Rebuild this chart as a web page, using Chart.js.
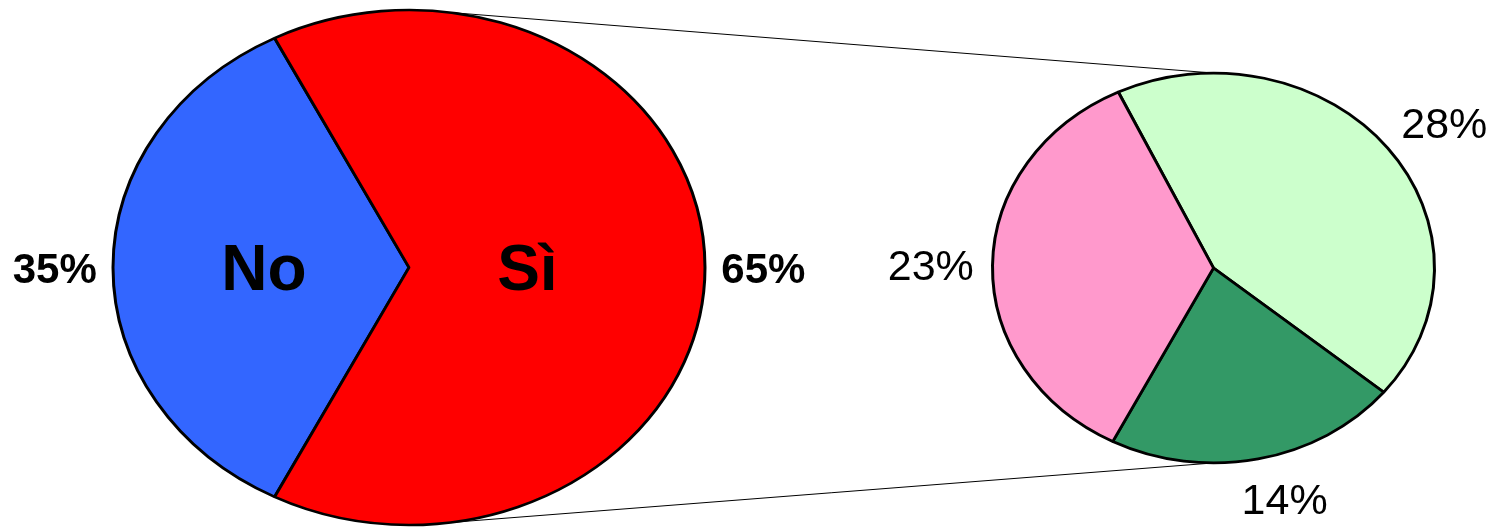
<!DOCTYPE html>
<html>
<head>
<meta charset="utf-8">
<script src="https://cdn.jsdelivr.net/npm/chart.js@4.4.0/dist/chart.umd.min.js"></script>
<style>
  body { margin: 0; background: #fff; }
  .strana { position: relative; width: 1495px; height: 528px; }
  .sloj { position: absolute; left: 0; top: 0; width: 1495px; height: 528px; }
</style>
</head>
<body>
<div class="strana">
  <div class="sloj"><canvas id="velikaPita"></canvas></div>
  <div class="sloj"><canvas id="malaPita"></canvas></div>
</div>
<script>
// glavna pita
const glavneKategorije = ["No", "Sì"];
const glavneVrednosti = [35, 65];
const glavneBoje = ["#3366FF", "#FF0000"];

// sporedna pita (deo "Sì")
const sporedneVrednosti = [28, 14, 23];
const sporedneBoje = ["#CCFFCC", "#339966", "#FF99CC"];

const FONT = '"Liberation Sans", Arial, sans-serif';

// crta pitu kao elipsu i ispisuje procente
const elipsaPlugin = {
  id: "elipsa",
  beforeDatasetsDraw(chart, args, opts) {
    const luk = chart.getDatasetMeta(0).data[0];
    const ctx = chart.ctx;
    ctx.save();
    ctx.translate(luk.x, luk.y);
    ctx.scale(1, opts.spljosti);
    ctx.translate(-luk.x, -luk.y);
  },
  afterDatasetsDraw(chart) {
    chart.ctx.restore();
  },
  afterDraw(chart, args, opts) {
    const ctx = chart.ctx;
    const k = opts.spljosti;
    const lukovi = chart.getDatasetMeta(0).data;
    const vrednosti = chart.data.datasets[0].data;
    ctx.save();
    ctx.fillStyle = "#000";
    ctx.textAlign = "center";
    ctx.textBaseline = "alphabetic";
    lukovi.forEach((luk, i) => {
      const a = (luk.startAngle + luk.endAngle) / 2;
      const R = luk.outerRadius;
      const cx = Math.cos(a), cy = Math.sin(a);

      // procenat spolja
      ctx.font = opts.tezina + " " + opts.velicina + "px " + FONT;
      const tekst = vrednosti[i] + "%";
      const polaW = ctx.measureText(tekst).width / 2;
      const polaH = opts.velicina * 0.358;
      const pomak = opts.pomak ? opts.pomak[i] : 0;
      const x = luk.x + cx * R * opts.spolja + cx * polaW + pomak;
      const y = luk.y + cy * R * k * opts.spolja + cy * polaH;
      ctx.fillText(tekst, x, y + polaH);

      // naziv kategorije unutra
      if (opts.nazivi) {
        const f = opts.unutra[i];
        ctx.font = "bold " + opts.velicinaNaziva + "px " + FONT;
        const xi = luk.x + cx * R * f;
        const yi = luk.y + cy * R * k * f;
        ctx.fillText(opts.nazivi[i], xi, yi + opts.velicinaNaziva * 0.358);
      }
    });
    ctx.restore();
  }
};

// linije koje spajaju dve pite
const linijePlugin = {
  id: "linije",
  afterDraw(chart, args, opts) {
    if (!window.velika) return;
    const v = velika.getDatasetMeta(0).data[0];
    const m = chart.getDatasetMeta(0).data[0];
    const kv = velika.options.plugins.elipsa.spljosti;
    const km = chart.options.plugins.elipsa.spljosti;
    const ctx = chart.ctx;
    ctx.save();
    ctx.strokeStyle = "#000";
    ctx.lineWidth = 1;
    [opts.ugao, 180 - opts.ugao].forEach((ug, i) => {
      const a = (ug - 90) * Math.PI / 180;
      const x1 = v.x + Math.cos(a) * v.outerRadius;
      const y1 = v.y + Math.sin(a) * v.outerRadius * kv;
      const y2 = m.y + (i == 0 ? -1 : 1) * m.outerRadius * km;
      ctx.beginPath();
      ctx.moveTo(x1, y1);
      ctx.lineTo(m.x, y2);
      ctx.stroke();
    });
    ctx.restore();
  }
};

var velika = new Chart(document.getElementById("velikaPita"), {
  type: "pie",
  data: {
    labels: glavneKategorije,
    datasets: [{
      data: glavneVrednosti,
      backgroundColor: glavneBoje,
      borderColor: "#000",
      borderWidth: 3,
      hoverOffset: 0,
      clip: false
    }]
  },
  options: {
    responsive: true,
    maintainAspectRatio: false,
    animation: false,
    events: [],
    radius: 296,
    rotation: 207,
    layout: { padding: { left: 0, right: 677, top: 7, bottom: 0 } },
    plugins: {
      legend: { display: false },
      tooltip: { enabled: false },
      elipsa: {
        spljosti: 0.87,
        spolja: 1.055,
        tezina: "bold",
        velicina: 42,
        nazivi: glavneKategorije,
        unutra: [0.49, 0.40],
        velicinaNaziva: 64
      }
    }
  },
  plugins: [elipsaPlugin]
});

var mala = new Chart(document.getElementById("malaPita"), {
  type: "pie",
  data: {
    labels: ["", "", ""],
    datasets: [{
      data: sporedneVrednosti,
      backgroundColor: sporedneBoje,
      borderColor: "#000",
      borderWidth: 3,
      hoverOffset: 0,
      clip: false
    }]
  },
  options: {
    responsive: true,
    maintainAspectRatio: false,
    animation: false,
    events: [],
    radius: 221,
    rotation: -25.5,
    layout: { padding: { left: 932, right: 0, top: 8, bottom: 0 } },
    plugins: {
      legend: { display: false },
      tooltip: { enabled: false },
      elipsa: {
        spljosti: 0.882,
        spolja: 1.13,
        tezina: "normal",
        velicina: 43,
        pomak: [0, 12, 10]
      },
      linije: { ugao: 8 }
    }
  },
  plugins: [elipsaPlugin, linijePlugin]
});
</script>
</body>
</html>
